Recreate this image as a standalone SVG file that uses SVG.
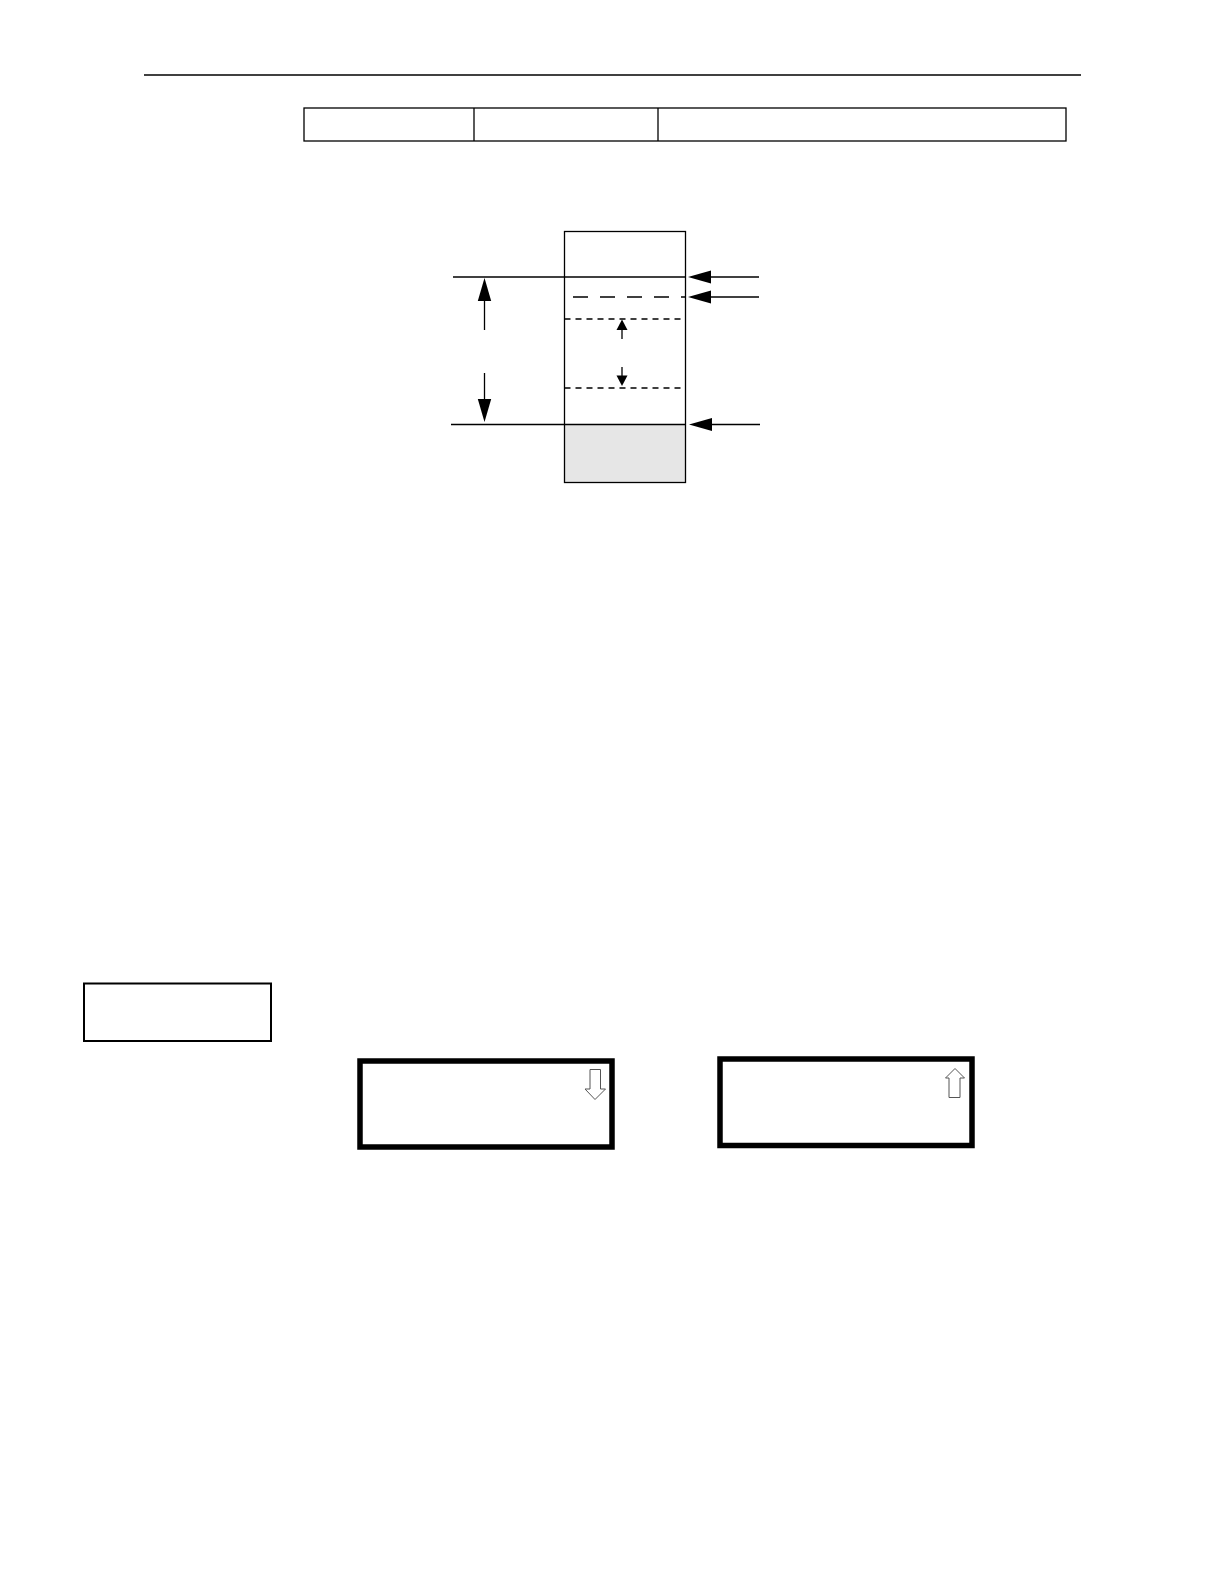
<svg xmlns="http://www.w3.org/2000/svg" width="1224" height="1584" viewBox="0 0 1224 1584">
<style>
.thin{stroke:#000;stroke-width:1.3;fill:none}
.dashL{stroke:#000;stroke-width:1.5;stroke-dasharray:15,12;fill:none}
.dashS{stroke:#000;stroke-width:1.5;stroke-dasharray:6,5;fill:none}
.head{fill:#000;stroke:none}
.lcd{fill:#fff;stroke:#000;stroke-width:5.5}
.hollow{fill:#fff;stroke:#555;stroke-width:1}
</style>
<rect width="1224" height="1584" fill="#fff"/>
<g id="header-rule"><line class="thin" x1="144" y1="75" x2="1081" y2="75"/></g>
<g id="table">
<rect class="thin" x="304" y="108" width="762" height="33"/>
<line class="thin" x1="474" y1="108" x2="474" y2="141"/>
<line class="thin" x1="658" y1="108" x2="658" y2="141"/>
</g>
<g id="column">
<rect x="564.5" y="424.5" width="121" height="58" fill="#e6e6e6"/>
<rect class="thin" x="564.5" y="231.5" width="121" height="251"/>
</g>
<g id="connectors">
<line class="thin" x1="453" y1="277" x2="686" y2="277"/>
<line class="dashL" x1="573" y1="297" x2="686" y2="297"/>
<line class="dashS" x1="564.5" y1="319" x2="686" y2="319"/>
<line class="dashS" x1="564.5" y1="388" x2="686" y2="388"/>
<line class="thin" x1="451" y1="424.5" x2="686" y2="424.5"/>
<line class="thin" x1="710" y1="277" x2="759" y2="277"/>
<polygon class="head" points="688,277 711,270.5 711,283.5"/>
<line class="thin" x1="710" y1="297" x2="759" y2="297"/>
<polygon class="head" points="688,297 711,290.5 711,303.5"/>
<line class="thin" x1="710" y1="424.5" x2="760" y2="424.5"/>
<polygon class="head" points="689,424.5 712,418 712,431"/>
<line class="thin" x1="484.5" y1="299" x2="484.5" y2="330"/>
<polygon class="head" points="484.5,278 477.8,301 491.2,301"/>
<line class="thin" x1="484.5" y1="373" x2="484.5" y2="400"/>
<polygon class="head" points="484.5,422 477.8,399 491.2,399"/>
<line class="thin" x1="622" y1="329" x2="622" y2="339"/>
<polygon class="head" points="622,319.5 616.5,330 627.5,330"/>
<line class="thin" x1="622" y1="367" x2="622" y2="377"/>
<polygon class="head" points="622,386 616.5,375.5 627.5,375.5"/>
</g>
<g id="label-box"><rect x="84" y="983.5" width="187" height="57.5" fill="#fff" stroke="#000" stroke-width="2"/></g>
<g id="display-down">
<rect class="lcd" x="360" y="1061" width="252" height="86"/>
<polygon class="hollow" points="590,1069.5 600.5,1069.5 600.5,1089 605.5,1089 595,1099.5 585,1089 590,1089"/>
</g>
<g id="display-up">
<rect class="lcd" x="720" y="1059" width="252" height="86.5"/>
<polygon class="hollow" points="949,1097.5 960,1097.5 960,1078 964.5,1078 955,1068.5 945.5,1078 949,1078"/>
</g>
</svg>
